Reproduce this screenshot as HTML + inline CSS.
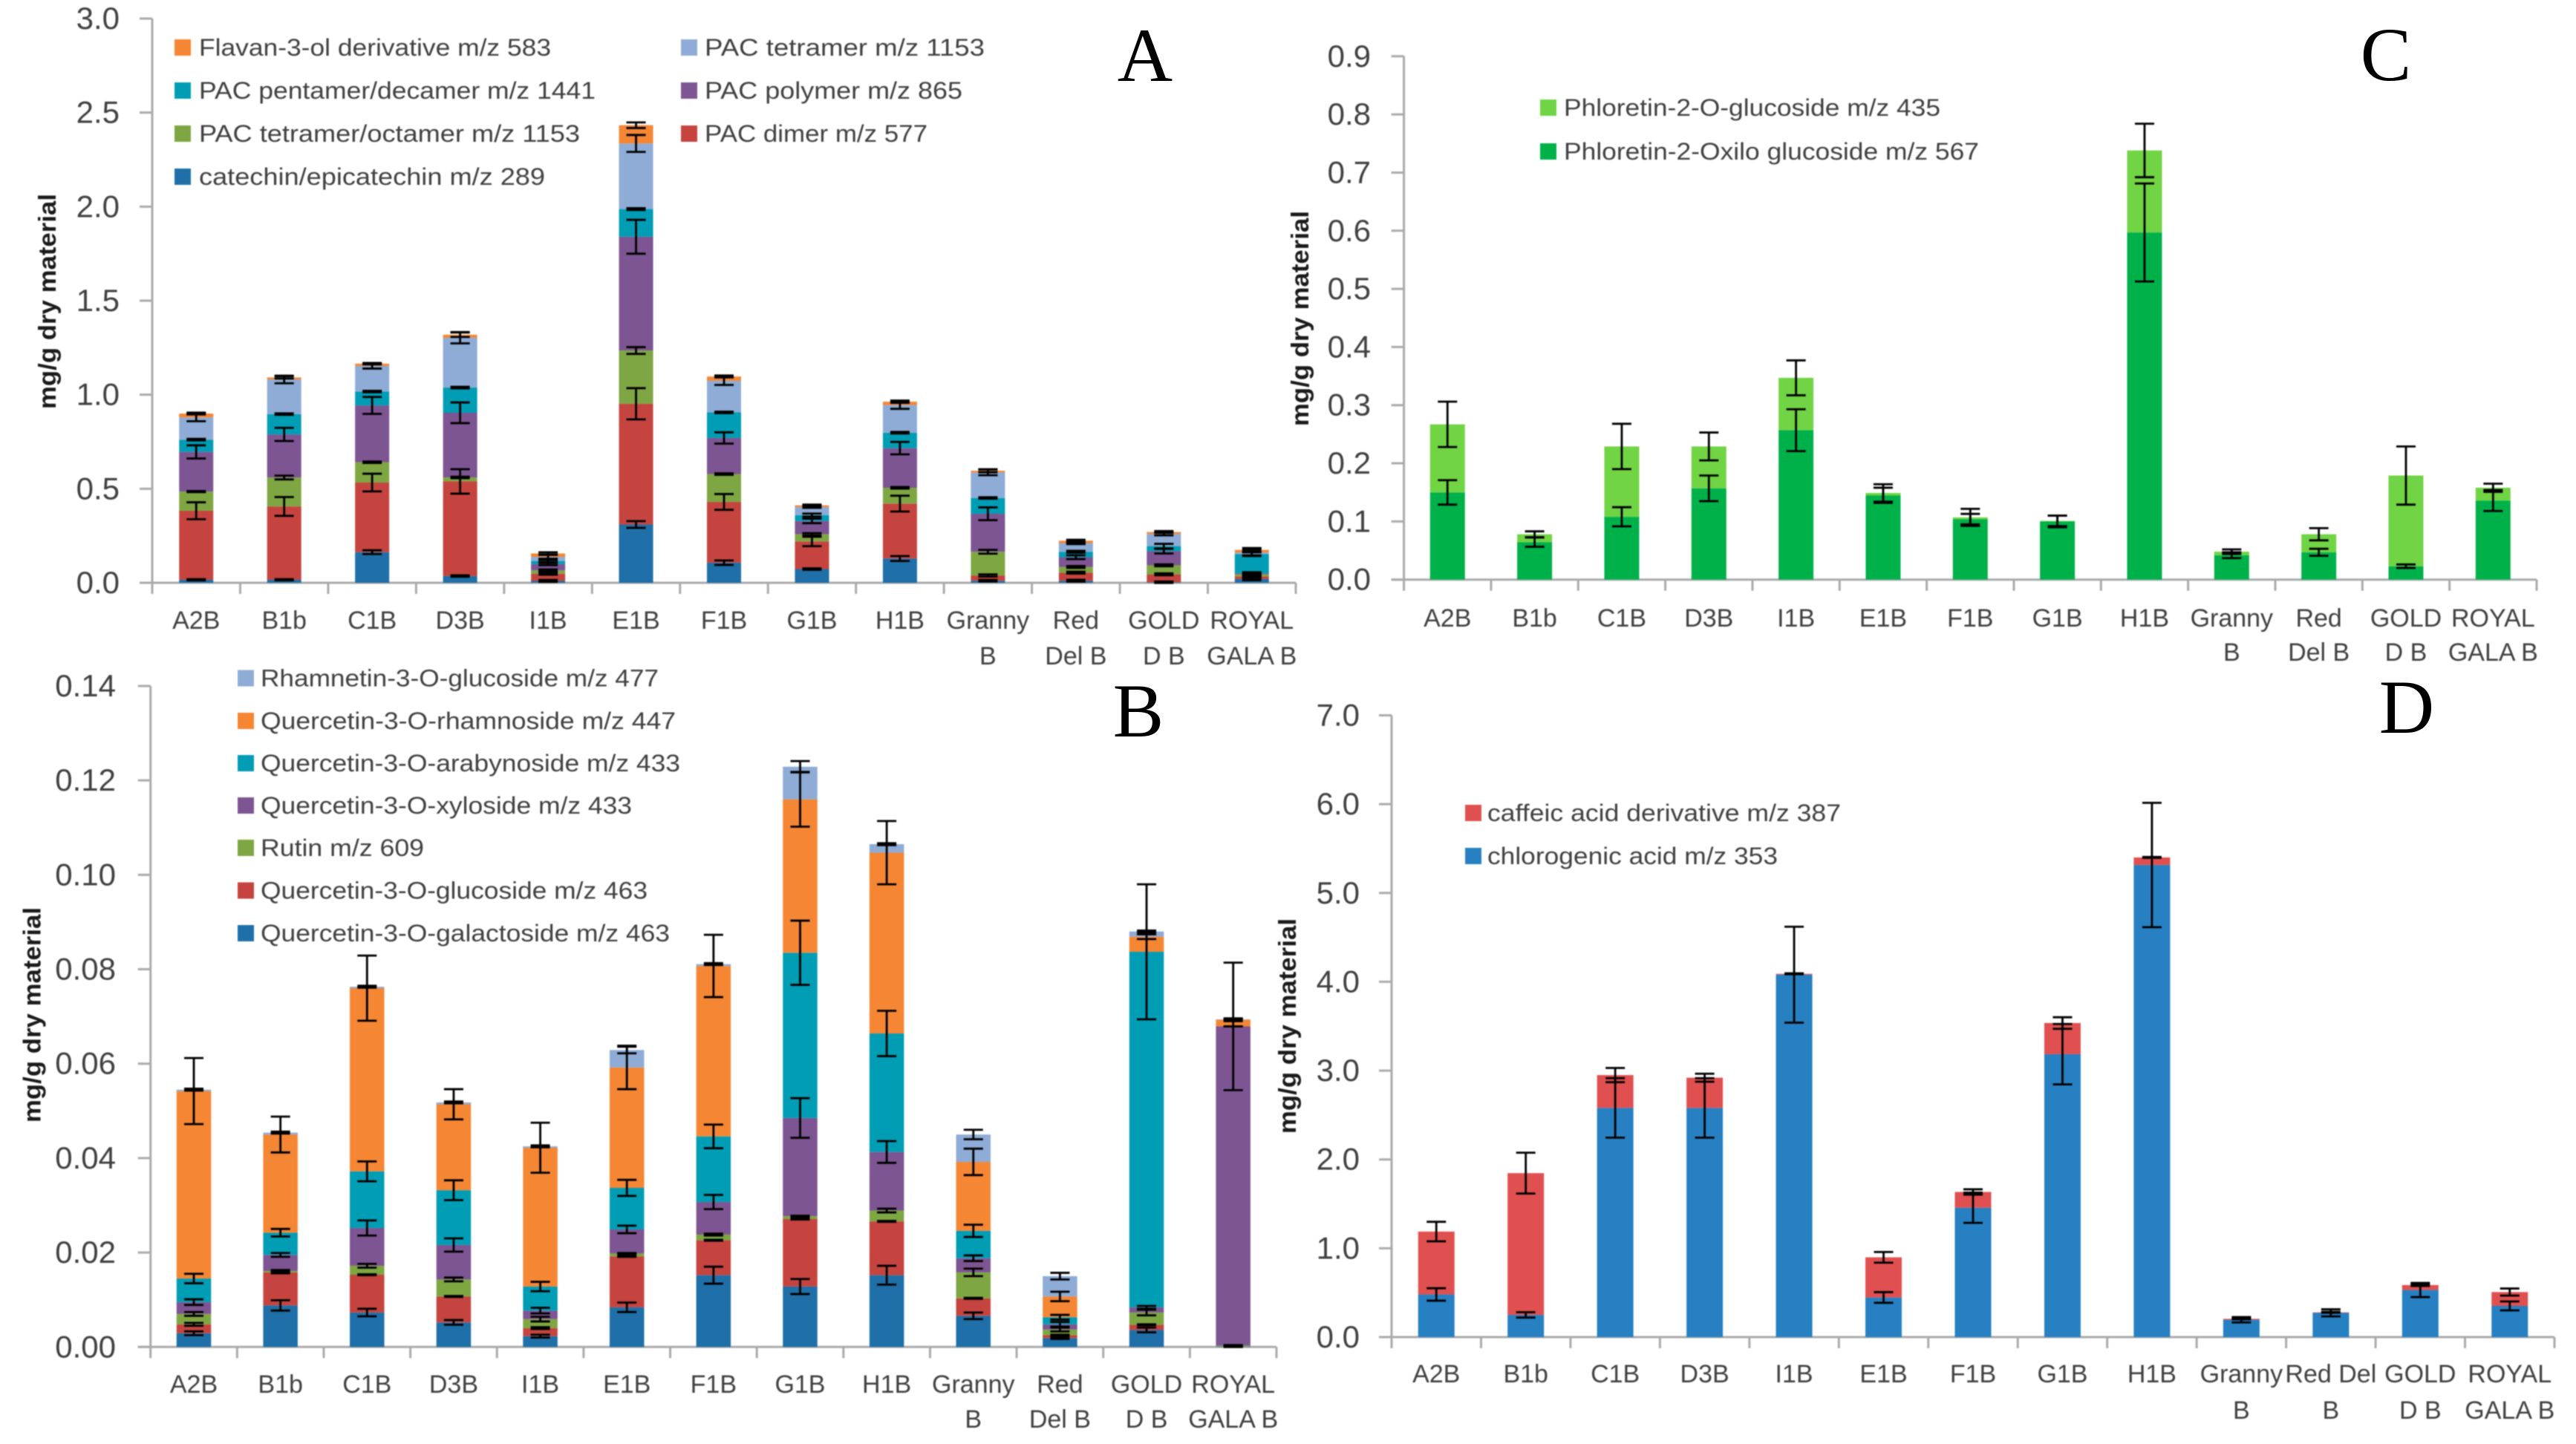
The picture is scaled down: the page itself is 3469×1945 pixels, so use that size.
<!DOCTYPE html>
<html lang="en">
<head>
<meta charset="utf-8">
<title>Phenolic compounds by apple variety</title>
<style>
  html, body { margin: 0; padding: 0; background: #fff; }
  #figure { display: block; width: 3469px; height: 1945px; }
  text { font-family: "Liberation Sans", sans-serif; fill: #404040; }
  .letter { font-family: "Liberation Serif", serif; fill: #000; font-size: 103px; text-anchor: middle; }
  .ytitle { font-weight: bold; font-size: 33px; fill: #1a1a1a; text-anchor: middle; }
</style>
</head>
<body>
<svg id="figure" xmlns="http://www.w3.org/2000/svg" width="3469" height="1945" viewBox="0 0 3469 1945">
  <rect width="3469" height="1945" fill="#ffffff"/>
  <g id="charts" style="filter: blur(0.8px)"></g>
  <text class="letter" x="1542" y="109">A</text>
  <text class="letter" x="1533" y="992">B</text>
  <text class="letter" x="3213" y="108">C</text>
  <text class="letter" x="3241" y="987">D</text>
</svg>
<script>
// ---------- shared category names ----------
const categoriesStd = ["A2B","B1b","C1B","D3B","I1B","E1B","F1B","G1B","H1B","Granny|B","Red|Del B","GOLD|D B","ROYAL|GALA B"];
const categoriesD = ["A2B","B1b","C1B","D3B","I1B","E1B","F1B","G1B","H1B","Granny|B","Red Del|B","GOLD|D B","ROYAL|GALA B"];

// ---------- panel A ----------
const ticksA = ["0.0","0.5","1.0","1.5","2.0","2.5","3.0"];
const catechinA = [.016,.016,.163,.036,.010,.310,.107,.073,.129,.011,.011,.003,.020];
const dimerA = [.367,.390,.370,.503,.038,.642,.323,.147,.292,.028,.043,.042,.014];
const tetOctA = [.102,.154,.108,.021,.018,.283,.148,.038,.084,.126,.030,.048,.011];
const polymerA = [.211,.229,.302,.344,.034,.605,.192,.071,.211,.202,.052,.075,.005];
const pentDecA = [.065,.108,.074,.134,.016,.147,.136,.031,.082,.084,.029,.027,.102];
const tetramerA = [.118,.184,.136,.265,.022,.349,.168,.043,.147,.136,.046,.065,.009];
const flavanA = [.021,.011,.012,.016,.018,.097,.023,.009,.018,.009,.013,.010,.014];
const catechinErrA = [.003,.003,.010,.004,.005,.018,.012,.004,.013,.004,.005,.004,.006];
const dimerErrA = [.045,.050,.047,.065,.005,.083,.042,.025,.042,.006,.005,.005,.005];
const tetOctErrA = [.003,.010,.004,.004,.005,.018,.004,.006,.004,.010,.005,.005,.004];
const polymerErrA = [.035,.035,.045,.055,.006,.090,.030,.012,.033,.034,.010,.012,.006];
const pentDecErrA = [.004,.004,.004,.004,.006,.005,.004,.008,.004,.004,.005,.012,.010];
const tetramerErrA = [.020,.020,.014,.030,.010,.045,.022,.004,.020,.015,.005,.008,.015];
const flavanErrA = [.005,.006,.004,.012,.006,.015,.005,.004,.006,.008,.005,.005,.010];

// ---------- panel B ----------
const ticksB = ["0.00","0.02","0.04","0.06","0.08","0.10","0.12","0.14"];
const galactosideB = [.0029,.0088,.0073,.0052,.0023,.0084,.0152,.0128,.0152,.0066,.0019,.0036,.0001];
const glucosideB = [.0019,.0070,.0080,.0055,.0017,.0108,.0074,.0143,.0114,.0037,.0006,.0011,0];
const rutinB = [.0022,.0003,.0019,.0036,.0019,.0006,.0012,.0006,.0023,.0055,.0012,.0026,.0002];
const xylosideB = [.0025,.0034,.0080,.0073,.0018,.0051,.0069,.0208,.0124,.0030,.0011,.0011,.0676];
const arabynosideB = [.0050,.0047,.0120,.0116,.0051,.0088,.0139,.0350,.0251,.0058,.0015,.0753,0];
const rhamnosideB = [.0397,.0208,.0388,.0182,.0294,.0255,.0361,.0325,.0383,.0146,.0044,.0032,.0014];
const rhamnetinB = [.0003,.0004,.0003,.0004,.0003,.0037,.0004,.0069,.0018,.0058,.0043,.0011,.0001];
const galactosideErrB = [.0004,.0011,.0008,.0005,.0003,.0010,.0018,.0016,.0020,.0007,.0002,.0005,.0001];
const glucosideErrB = [.0003,.0002,.0001,.0001,.0002,.0001,.0001,.0001,.0001,.0001,.0001,.0001,0];
const rutinErrB = [.0004,.0002,.0004,.0004,.0005,.0001,.0002,.0001,.0004,.0008,.0004,.0006,.0001];
const xylosideErrB = [.0006,.0004,.0016,.0014,.0006,.0008,.0015,.0042,.0023,.0006,.0005,.0003,.0135];
const arabynosideErrB = [.0010,.0008,.0021,.0021,.0010,.0017,.0025,.0068,.0048,.0013,.0005,.0143,0];
const rhamnosideErrB = [.0070,.0038,.0069,.0032,.0053,.0046,.0066,.0058,.0067,.0028,.0010,.0005,.0003];
const rhamnetinErrB = [.0002,.0002,.0002,.0002,.0002,.0007,.0002,.0012,.0002,.0010,.0007,.0002,.0001];

// ---------- panel C ----------
const ticksC = ["0.0","0.1","0.2","0.3","0.4","0.5","0.6","0.7","0.8","0.9"];
const oxiloC = [.150,.0645,.108,.157,.257,.145,.104,.100,.597,.042,.047,.023,.136];
const glucosideC = [.117,.0135,.121,.072,.090,.004,.003,.001,.141,.006,.031,.156,.022];
const oxiloErrC = [.021,.008,.0165,.022,.036,.013,.009,.010,.0843,.005,.006,.003,.018];
const glucosideErrC = [.039,.005,.039,.024,.030,.015,.0147,.009,.046,.004,.0105,.050,.007];

// ---------- panel D ----------
const ticksD = ["0.0","1.0","2.0","3.0","4.0","5.0","6.0","7.0"];
const chlorogenicD = [.48,.25,2.58,2.58,4.08,.446,1.456,3.185,5.315,.195,.273,.53,.351];
const caffeicD = [.708,1.596,.37,.34,.01,.452,.178,.351,.085,.011,.006,.056,.156];
const chlorogenicErrD = [.07,.03,.335,.335,.54,.06,.17,.34,.70,.03,.04,.08,.05];
const caffeicErrD = [.11,.23,.08,.045,.005,.06,.03,.065,.005,.005,.005,.01,.04];

const NS = "http://www.w3.org/2000/svg";
const root = document.getElementById("charts");

function make(parent, tag, attrs) {
  const el = document.createElementNS(NS, tag);
  for (const k in attrs) el.setAttribute(k, attrs[k]);
  parent.appendChild(el);
  return el;
}

function drawPanel(p) {
  const g = make(root, "g", {});
  
  

  const yMax = parseFloat(p.ticks[p.ticks.length - 1]);
  const yScale = v => p.y0 - (v / yMax) * (p.y0 - p.yTop);
  const band = (p.xEnd - p.x0) / p.categories.length;
  const xCenter = i => p.x0 + band * (i + 0.5);

  // axes
  const yAxis = make(g, "line", { x1: p.x0, x2: p.x0, y1: p.yTop, y2: p.y0 + 15, stroke: "#aaaaaa", "stroke-width": 3 });
  
  
  const xAxis = make(g, "line", { x1: p.x0 - 17, x2: p.xEnd, y1: p.y0, y2: p.y0, stroke: "#aaaaaa", "stroke-width": 3 });
  
  

  p.ticks.forEach(t => {
    const v = parseFloat(t);
    const y = yScale(v);
    const tick = make(g, "line", { x1: p.x0 - 17, x2: p.x0, y1: y, y2: y, stroke: "#aaaaaa", "stroke-width": 3 });
    
    
    const lab = make(g, "text", { x: p.tickRight, y: y + 14, "text-anchor": "end", "font-size": 42 });
    
    
    lab.textContent = t;
  });

  p.categories.forEach((c, i) => {
    const xt = p.x0 + band * (i + 1);
    const tick = make(g, "line", { x1: xt, x2: xt, y1: p.y0, y2: p.y0 + 15, stroke: "#aaaaaa", "stroke-width": 3 });
    
    
    c.split("|").forEach((line, k) => {
      const lab = make(g, "text", { x: xCenter(i), y: k === 0 ? p.label1 : p.label2, "text-anchor": "middle", "font-size": 34 });
      
      
      lab.textContent = line;
    });
  });

  // stacked bars
  const errs = [];
  p.categories.forEach((c, i) => {
    let sum = 0;
    p.series.forEach((s, si) => {
      const v = s[i];
      const top = yScale(sum + v);
      const base = yScale(sum);
      const bar = make(g, "rect", { x: xCenter(i) - p.barW / 2, y: top, width: p.barW, height: Math.max(0, base - top), fill: p.colors[si] });
      
      
      sum += v;
      errs.push({ x: xCenter(i), v: sum, e: p.errors[si][i] });
    });
  });

  // error bars on top of the bars
  errs.forEach(d => {
    const eg = make(g, "g", { stroke: "#000", "stroke-width": 2.8, fill: "none" });
    
    
    const yHi = yScale(d.v + d.e), yLo = yScale(d.v - d.e);
    make(eg, "line", { x1: d.x, x2: d.x, y1: yHi, y2: yLo });
    make(eg, "line", { x1: d.x - 13, x2: d.x + 13, y1: yHi, y2: yHi });
    make(eg, "line", { x1: d.x - 13, x2: d.x + 13, y1: yLo, y2: yLo });
  });

  // y axis title
  const title = make(g, "text", { class: "ytitle", transform: "translate(" + p.titleX + "," + p.titleY + ") rotate(-90)", textLength: 290, lengthAdjust: "spacingAndGlyphs" });
  
  
  title.textContent = "mg/g dry material";

  // legend
  p.legend.forEach(l => {
    const lg = make(g, "g", {});
    
    
    make(lg, "rect", { x: l.sx, y: l.y - 11, width: 22, height: 22, fill: l.color });
    const t = make(lg, "text", { x: l.tx, y: l.y + 11, "font-size": 32, textLength: l.w, lengthAdjust: "spacingAndGlyphs" });
    t.textContent = l.text;
  });
}

const colorsA = ["#1f6fa8", "#c5443f", "#7ea642", "#7d5592", "#019db5", "#8eacd6", "#f58634"];
const colorsB = ["#1f6fa8", "#c5443f", "#7ea642", "#7d5592", "#019db5", "#f58634", "#8eacd6"];

drawPanel({
  id: "a", categories: categoriesStd, ticks: ticksA, x0: 205, xEnd: 1745, y0: 785, yTop: 25, barW: 46, tickRight: 161,
  label1: 847, label2: 895, titleX: 75, titleY: 406, colors: colorsA,
  series: [catechinA, dimerA, tetOctA, polymerA, pentDecA, tetramerA, flavanA],
  errors: [catechinErrA, dimerErrA, tetOctErrA, polymerErrA, pentDecErrA, tetramerErrA, flavanErrA],
  legend: [
    { text: "Flavan-3-ol derivative m/z 583", color: "#f58634", sx: 235, tx: 268, y: 64, w: 474 },
    { text: "PAC pentamer/decamer m/z 1441", color: "#019db5", sx: 235, tx: 268, y: 122, w: 534 },
    { text: "PAC tetramer/octamer m/z 1153", color: "#7ea642", sx: 235, tx: 268, y: 180, w: 513 },
    { text: "catechin/epicatechin m/z 289", color: "#1f6fa8", sx: 235, tx: 268, y: 238, w: 466 },
    { text: "PAC tetramer  m/z 1153", color: "#8eacd6", sx: 917, tx: 949, y: 64, w: 377 },
    { text: "PAC polymer  m/z 865", color: "#7d5592", sx: 917, tx: 949, y: 122, w: 347 },
    { text: "PAC dimer m/z 577", color: "#c5443f", sx: 917, tx: 949, y: 180, w: 300 }
  ]
});

drawPanel({
  id: "b", categories: categoriesStd, ticks: ticksB, x0: 202.7, xEnd: 1719, y0: 1814.3, yTop: 924, barW: 46.5, tickRight: 156,
  label1: 1876, label2: 1923, titleX: 54.5, titleY: 1367, colors: colorsB,
  series: [galactosideB, glucosideB, rutinB, xylosideB, arabynosideB, rhamnosideB, rhamnetinB],
  errors: [galactosideErrB, glucosideErrB, rutinErrB, xylosideErrB, arabynosideErrB, rhamnosideErrB, rhamnetinErrB],
  legend: [
    { text: "Rhamnetin-3-O-glucoside m/z 477", color: "#8eacd6", sx: 320, tx: 351, y: 913.5, w: 536 },
    { text: "Quercetin-3-O-rhamnoside m/z 447", color: "#f58634", sx: 320, tx: 351, y: 971, w: 559 },
    { text: "Quercetin-3-O-arabynoside m/z 433", color: "#019db5", sx: 320, tx: 351, y: 1028, w: 565 },
    { text: "Quercetin-3-O-xyloside m/z 433", color: "#7d5592", sx: 320, tx: 351, y: 1085, w: 500 },
    { text: "Rutin m/z 609", color: "#7ea642", sx: 320, tx: 351, y: 1142, w: 220 },
    { text: "Quercetin-3-O-glucoside m/z 463", color: "#c5443f", sx: 320, tx: 351, y: 1199.5, w: 521 },
    { text: "Quercetin-3-O-galactoside m/z 463", color: "#1f6fa8", sx: 320, tx: 351, y: 1257, w: 551 }
  ]
});

drawPanel({
  id: "c", categories: categoriesStd, ticks: ticksC, x0: 1890.6, xEnd: 3416, y0: 780.7, yTop: 75.8, barW: 47, tickRight: 1846,
  label1: 844, label2: 890, titleX: 1762, titleY: 429, colors: ["#00b14a", "#70d444"],
  series: [oxiloC, glucosideC],
  errors: [oxiloErrC, glucosideErrC],
  legend: [
    { text: "Phloretin-2-O-glucoside m/z 435", color: "#70d444", sx: 2074, tx: 2106, y: 145, w: 507 },
    { text: "Phloretin-2-Oxilo glucoside m/z 567", color: "#00b14a", sx: 2074, tx: 2106, y: 204, w: 559 }
  ]
});

drawPanel({
  id: "d", categories: categoriesD, ticks: ticksD, x0: 1874, xEnd: 3440, y0: 1801, yTop: 963.5, barW: 49, tickRight: 1831,
  label1: 1862, label2: 1911, titleX: 1745, titleY: 1382, colors: ["#2680c2", "#e05050"],
  series: [chlorogenicD, caffeicD],
  errors: [chlorogenicErrD, caffeicErrD],
  legend: [
    { text: "caffeic acid derivative m/z 387", color: "#e05050", sx: 1973, tx: 2003, y: 1095, w: 476 },
    { text: "chlorogenic acid m/z 353", color: "#2680c2", sx: 1973, tx: 2003, y: 1153, w: 391 }
  ]
});
</script>
</body>
</html>
